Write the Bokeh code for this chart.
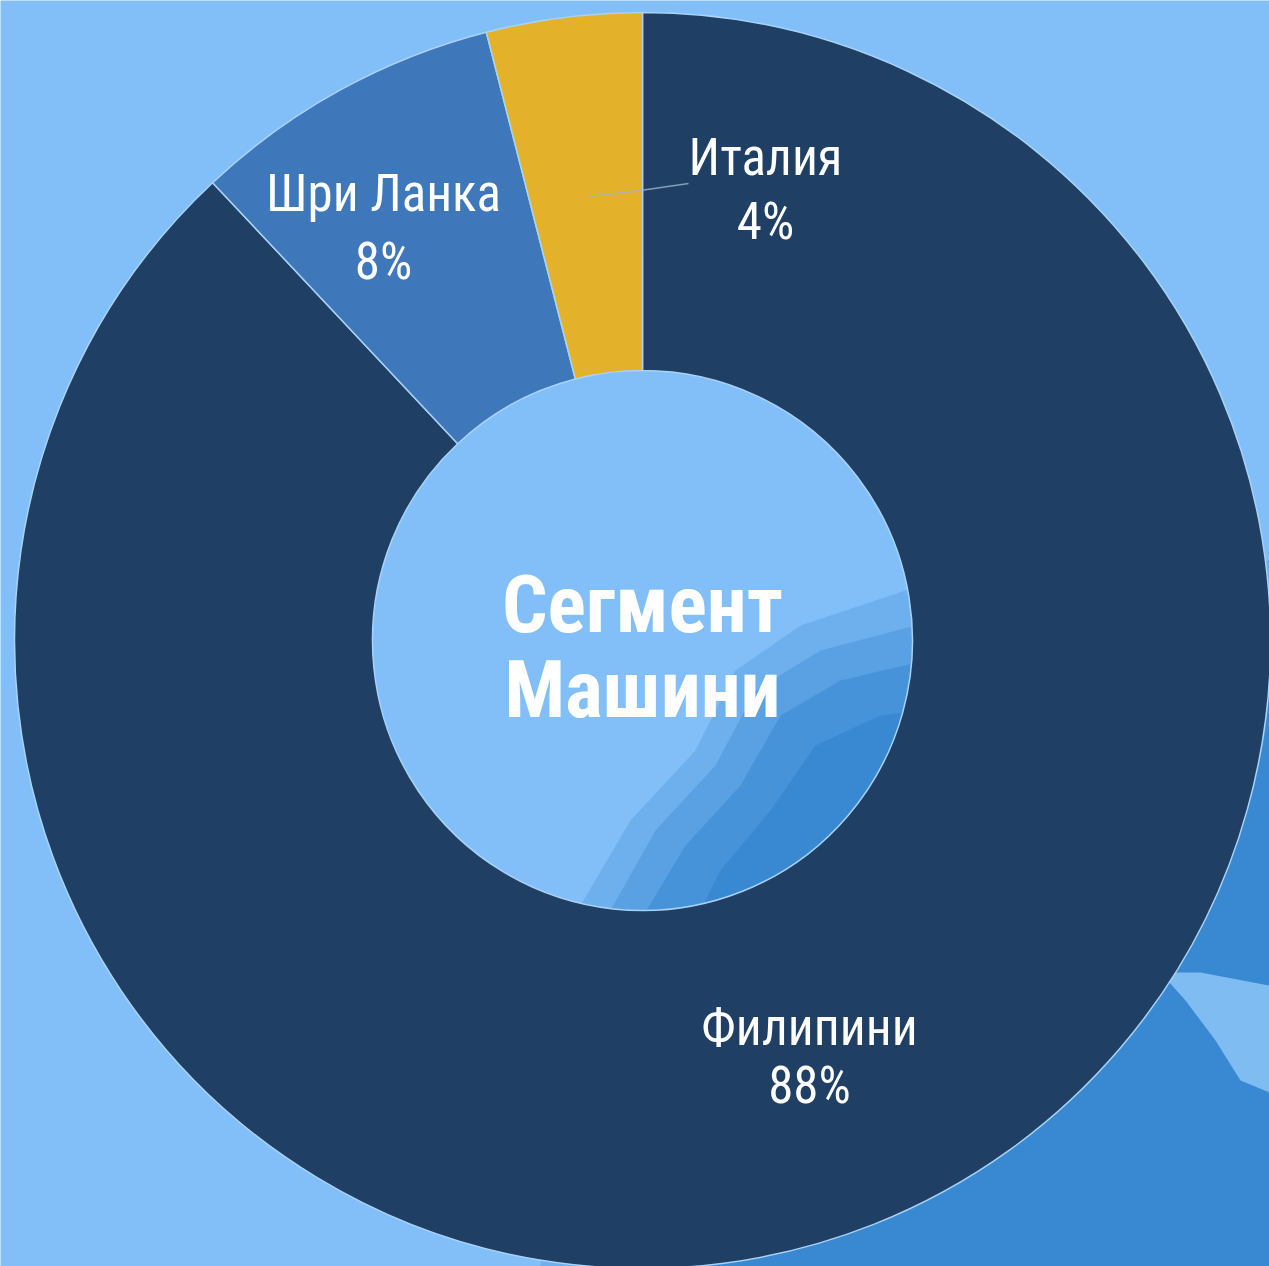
import numpy as np
from bokeh.plotting import figure
from bokeh.models import Range1d, ColumnDataSource
from bokeh.core.properties import value
from bokeh.embed import file_html
from bokeh.resources import INLINE

# ---- data ----
categories = ["Филипини", "Шри Ланка", "Италия"]
shares = [88, 8, 4]
colors = ["#1F3F64", "#3E77BA", "#E3B12A"]
center_title = ["Сегмент", "Машини"]

# ---- canvas (data units == pixels, y measured upward) ----
W, H = 1269, 1266
def Y(ref_y):
    return H - ref_y

cx, cy = 642, Y(640)
r_in, r_out = 270, 628

p = figure(width=W, height=H, x_range=Range1d(0, W), y_range=Range1d(0, H),
           output_backend="svg", toolbar_location=None, min_border=0)
p.axis.visible = False
p.grid.visible = False
p.outline_line_color = None
p.background_fill_color = "#82BFF8"
p.border_fill_color = "#82BFF8"

# ---- soft background photo shapes (darker blue lower right) ----
layers = [
    ([1269, 1000, 905, 800, 735, 695, 630, 580, 540, 1269],
     [560, 570, 590, 625, 670, 750, 820, 905, 1266, 1266], 0.22),
    ([1269, 1050, 915, 820, 755, 715, 655, 610, 580, 1269],
     [600, 610, 625, 650, 690, 765, 830, 910, 1266, 1266], 0.30),
    ([1269, 1100, 925, 840, 780, 740, 685, 640, 620, 1269],
     [640, 650, 660, 680, 715, 785, 845, 920, 1266, 1266], 0.38),
    ([1269, 1150, 1000, 880, 815, 770, 720, 680, 700, 1269],
     [690, 700, 700, 715, 745, 810, 870, 950, 1266, 1266], 0.46),
]
for xs, ys, a in layers:
    p.patch(xs, [Y(v) for v in ys], fill_color="#2A7DCA", fill_alpha=a, line_color=None)
# light streak at right
p.patch([1160, 1200, 1269, 1269, 1240, 1215, 1185],
        [Y(v) for v in [972, 972, 985, 1092, 1080, 1040, 1000]],
        fill_color="#8CC6F7", fill_alpha=0.85, line_color=None)

# ---- donut ----
vals = np.array(shares, dtype=float)
frac = vals / vals.sum()
cum = np.concatenate([[0], np.cumsum(frac)])
start_cw = cum[:-1] * 2 * np.pi
end_cw = cum[1:] * 2 * np.pi
src = ColumnDataSource(dict(
    start=(np.pi / 2 - end_cw).tolist(),
    end=(np.pi / 2 - start_cw).tolist(),
    color=colors,
    cat=categories,
))
p.annular_wedge(x=cx, y=cy, inner_radius=r_in, outer_radius=r_out,
                start_angle="start", end_angle="end", fill_color="color",
                line_color="#A8D2F6", line_width=1.5, direction="anticlock", source=src)

font = value("Roboto Condensed")

# ---- labels (name above, percentage below) ----
lab_x = [809, 383, 765]
name_base = [Y(1027), Y(193), Y(157)]
pct_base = [Y(1085), Y(261), Y(221)]
for i, c in enumerate(categories):
    p.text(x=[lab_x[i]], y=[name_base[i]], text=[c], text_font=font, text_font_size="51px",
           text_color="#FFFFFF", text_align="center", text_baseline="alphabetic")
    p.text(x=[lab_x[i]], y=[pct_base[i]], text=[f"{shares[i]}%"], text_font=font, text_font_size="51px",
           text_color="#FFFFFF", text_align="center", text_baseline="alphabetic")

# leader line for Италия
p.line([588, 640, 688], [Y(196), Y(190), Y(183)], line_color="#9FB6D0", line_width=1.5, line_alpha=0.8)

# ---- center title ----
p.text(x=[cx, cx], y=[Y(604), Y(689)], text=center_title, text_font=font, text_font_size="80px",
       text_font_style="bold", text_color="#FFFFFF", text_align="center", text_baseline="alphabetic")

open("out.html", "w").write(file_html(p, INLINE))
